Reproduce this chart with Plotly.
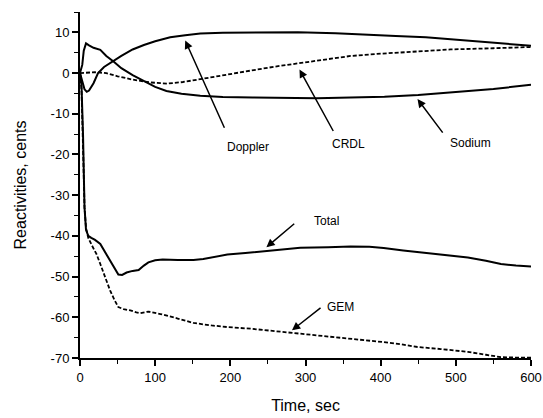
import plotly.graph_objects as go

# ---- data ----
doppler_t = [0, 3, 6, 9, 12, 18, 24, 32, 42, 55, 70, 85, 100, 120, 140, 160, 190, 230, 290, 340, 380, 420, 460, 500, 550, 600]
doppler_y = [0, -2, -4, -4.6, -4.3, -2.5, 0, 1.5, 2.7, 4.2, 5.8, 6.9, 7.8, 8.8, 9.3, 9.7, 9.9, 10, 10, 9.8, 9.4, 9.1, 8.8, 8.2, 7.4, 6.7]

sodium_t = [0, 3, 5, 8, 12, 18, 27, 35, 45, 55, 70, 85, 100, 115, 135, 160, 190, 230, 270, 315, 360, 405, 450, 495, 550, 600]
sodium_y = [0, 2, 5.5, 7.3, 6.8, 6.2, 5.7, 4.2, 2.8, 1.2, -0.5, -2.0, -3.4, -4.4, -5.1, -5.6, -5.9, -6.0, -6.1, -6.2, -6.0, -5.8, -5.4, -4.8, -3.9, -2.9]

crdl_t = [0, 10, 20, 35, 50, 70, 93, 116, 137, 160, 190, 227, 260, 293, 330, 360, 395, 427, 460, 493, 550, 600]
crdl_y = [0, 0.1, 0.2, 0, -0.8, -1.6, -2.3, -2.6, -2.2, -1.5, -0.5, 0.6, 1.6, 2.5, 3.5, 4.2, 4.7, 5.1, 5.5, 5.8, 6.1, 6.4]

total_t = [0, 2, 4, 6, 8, 11, 15, 20, 27, 38, 45, 51, 56, 62, 70, 78, 85, 91, 100, 110, 130, 151, 164, 180, 196,
           220, 250, 293, 330, 360, 385, 404, 430, 460, 490, 516, 540, 560, 580, 600]
total_y = [0, -3, -15, -33, -38.5, -40, -40.5, -41, -42, -45.3, -47.5, -49.5, -49.6, -49, -48.6, -48.4, -47.3, -46.5,
           -46, -45.8, -45.9, -45.9, -45.7, -45.1, -44.6, -44.2, -43.7, -42.9, -42.8, -42.6, -42.7, -43, -43.6, -44.2,
           -44.8, -45.3, -46.1, -46.9, -47.3, -47.5]

gem_t = [0, 2, 4, 6, 8, 11, 16, 22, 27, 33, 40, 46, 51, 58, 67, 75, 80, 91, 107, 130, 151, 175, 196, 227, 260, 293,
         330, 360, 383, 404, 430, 449, 480, 516, 540, 560, 580, 600]
gem_y = [0, -4, -18, -33, -38, -40.5, -42.4, -44.5, -46.9, -50, -53.4, -55.8, -57.5, -58.0, -58.3, -58.8, -59, -58.6,
         -59.2, -60.3, -61.4, -62, -62.4, -62.8, -63.4, -64, -64.7, -65.3, -65.7, -66.1, -66.7, -67.3, -67.8, -68.5,
         -69.2, -69.8, -69.9, -69.9]

x_ticks = [0, 100, 200, 300, 400, 500, 600]
x_labels = ["0", "100", "200", "300", "400", "500", "600"]
y_ticks = [-70, -60, -50, -40, -30, -20, -10, 0, 10]
y_labels = ["-70", "-60", "-50", "-40", "-30", "-20", "-10", "0", "10"]

FONT = "Liberation Sans, Arial, sans-serif"

fig = go.Figure()
series = [
    (doppler_t, doppler_y, "solid"),
    (sodium_t, sodium_y, "solid"),
    (crdl_t, crdl_y, "dash"),
    (total_t, total_y, "solid"),
    (gem_t, gem_y, "dash"),
]
for t, y, dash in series:
    fig.add_trace(go.Scatter(x=t, y=y, mode="lines",
                             line=dict(color="black", width=2 if dash == "solid" else 1.8,
                                       dash="solid" if dash == "solid" else "4px,2px"),
                             showlegend=False, cliponaxis=False))

# annotations: (label, tip_x, tip_y, tail_x, tail_y, text_x, text_y)
notes = [
    ("Doppler", 140, 8.0, 193, -13.8, 223, -18.1),
    ("CRDL", 292, 0.9, 338, -14.6, 357, -17.5),
    ("Sodium", 449, -6.4, 484, -15.0, 520, -17.3),
    ("Total", 248, -42.8, 287, -36.7, 328, -36.3),
    ("GEM", 282, -63.2, 322, -57.4, 347, -57.5),
]
for label, tx, ty, ax, ay, lx, ly in notes:
    fig.add_annotation(x=tx, y=ty, ax=ax, ay=ay, xref="x", yref="y", axref="x", ayref="y",
                       text="", showarrow=True, arrowhead=2, arrowsize=1.1, arrowwidth=1.5,
                       arrowcolor="black")
    fig.add_annotation(x=lx, y=ly, xref="x", yref="y", text=label, showarrow=False,
                       font=dict(family=FONT, size=12, color="black"))

fig.update_layout(
    width=543, height=418,
    margin=dict(l=80, r=12, t=12, b=60, autoexpand=False),
    paper_bgcolor="white", plot_bgcolor="white",
    font=dict(family=FONT, size=12, color="black"),
)
fig.update_xaxes(
    range=[0, 600], tickvals=x_ticks, ticktext=x_labels, automargin=False,
    showline=True, linecolor="black", linewidth=2, mirror=False,
    ticks="outside", ticklen=6, tickwidth=1.5, tickcolor="black",
    minor=dict(dtick=50, tick0=0, ticks="outside", ticklen=4, tickwidth=1.2, tickcolor="black"),
    showgrid=False, zeroline=False,
    tickfont=dict(family=FONT, size=13, color="black"),
    title=dict(text="Time, sec", font=dict(family=FONT, size=16, color="black"), standoff=16),
)
fig.update_yaxes(
    range=[-70, 15], tickvals=y_ticks, ticktext=y_labels, automargin=False,
    showline=True, linecolor="black", linewidth=2, mirror=False,
    ticks="outside", ticklen=6, tickwidth=1.5, tickcolor="black",
    minor=dict(dtick=5, tick0=0, ticks="outside", ticklen=4, tickwidth=1.2, tickcolor="black"),
    showgrid=False, zeroline=False,
    tickfont=dict(family=FONT, size=13, color="black"),
    title=dict(text="Reactivities, cents", font=dict(family=FONT, size=16, color="black"), standoff=20),
)

fig.write_html("out.html")
